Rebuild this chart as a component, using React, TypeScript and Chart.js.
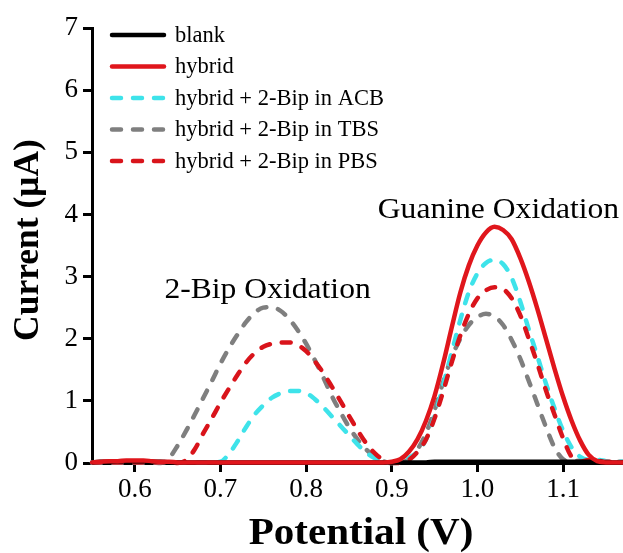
import React, { useEffect, useRef } from "react";
import { Chart, registerables } from "chart.js";

Chart.register(...registerables);

const potential = [
  0.55, 0.56, 0.57, 0.58, 0.59, 0.60, 0.61, 0.62, 0.63, 0.64,
  0.65, 0.66, 0.67, 0.68, 0.69, 0.70, 0.71, 0.72, 0.73, 0.74,
  0.75, 0.76, 0.77, 0.78, 0.79, 0.80, 0.81, 0.82, 0.83, 0.84,
  0.85, 0.86, 0.87, 0.88, 0.89, 0.90, 0.91, 0.92, 0.93, 0.94,
  0.95, 0.96, 0.97, 0.98, 0.99, 1.00, 1.01, 1.02, 1.03, 1.04,
  1.05, 1.06, 1.07, 1.08, 1.09, 1.10, 1.11, 1.12, 1.13, 1.14,
  1.15, 1.16, 1.17,
];

const blank = [
  0.01, 0.02, 0.02, 0.03, 0.03, 0.03, 0.03, 0.02, 0.02, 0.01,
  0.01, 0.01, 0.01, 0.01, 0.01, 0.01, 0.01, 0.01, 0.01, 0.01,
  0.01, 0.01, 0.01, 0.01, 0.01, 0.01, 0.01, 0.01, 0.01, 0.01,
  0.01, 0.01, 0.01, 0.01, 0.01, 0.01, 0.01, 0.01, 0.01, 0.01,
  0.02, 0.02, 0.02, 0.02, 0.02, 0.02, 0.02, 0.02, 0.02, 0.02,
  0.02, 0.02, 0.02, 0.02, 0.02, 0.02, 0.02, 0.02, 0.02, 0.02,
  0.01, 0.01, 0.01,
];

const hybrid = [
  0.01, 0.02, 0.03, 0.03, 0.04, 0.04, 0.04, 0.03, 0.02, 0.02,
  0.01, 0.01, 0.01, 0.01, 0.01, 0.01, 0.01, 0.01, 0.01, 0.01,
  0.01, 0.01, 0.01, 0.01, 0.01, 0.01, 0.01, 0.01, 0.01, 0.01,
  0.01, 0.01, 0.01, 0.01, 0.01, 0.02, 0.06, 0.18, 0.38, 0.68,
  1.08, 1.60, 2.18, 2.74, 3.18, 3.50, 3.71, 3.80, 3.75, 3.60,
  3.30, 2.92, 2.48, 2.00, 1.52, 1.07, 0.68, 0.36, 0.13, 0.03,
  0.01, 0.01, 0.01,
];

const acb = [
  0.01, 0.01, 0.01, 0.01, 0.01, 0.01, 0.01, 0.01, 0.01, 0.01,
  0.01, 0.01, 0.01, 0.01, 0.01, 0.02, 0.15, 0.35, 0.58, 0.78,
  0.93, 1.05, 1.12, 1.16, 1.16, 1.13, 1.03, 0.90, 0.75, 0.60,
  0.45, 0.30, 0.17, 0.08, 0.02, 0.00, 0.01, 0.08, 0.18, 0.38,
  0.75, 1.25, 1.78, 2.30, 2.75, 3.05, 3.22, 3.27, 3.20, 2.98,
  2.60, 2.15, 1.72, 1.28, 0.88, 0.52, 0.25, 0.10, 0.05, 0.05,
  0.03, 0.02, 0.02,
];

const tbs = [
  0.01, 0.01, 0.01, 0.01, 0.01, 0.01, 0.01, 0.01, 0.00, 0.08,
  0.28, 0.52, 0.78, 1.05, 1.32, 1.60, 1.85, 2.07, 2.27, 2.42,
  2.50, 2.51, 2.45, 2.32, 2.14, 1.92, 1.66, 1.38, 1.08, 0.82,
  0.58, 0.38, 0.22, 0.10, 0.03, 0.00, 0.01, 0.06, 0.22, 0.48,
  0.85, 1.30, 1.70, 2.00, 2.22, 2.35, 2.40, 2.36, 2.22, 1.98,
  1.68, 1.32, 0.95, 0.58, 0.25, 0.06, 0.02, 0.04, 0.05, 0.03,
  0.02, 0.02, 0.02,
];

const pbs = [
  0.01, 0.01, 0.01, 0.01, 0.01, 0.01, 0.01, 0.01, 0.01, 0.01,
  0.00, 0.05, 0.22, 0.48, 0.72, 0.97, 1.20, 1.42, 1.62, 1.77,
  1.87, 1.92, 1.94, 1.94, 1.90, 1.80, 1.64, 1.45, 1.23, 1.00,
  0.76, 0.53, 0.32, 0.16, 0.05, 0.00, 0.00, 0.05, 0.18, 0.38,
  0.72, 1.15, 1.62, 2.05, 2.40, 2.65, 2.78, 2.83, 2.80, 2.65,
  2.38, 2.00, 1.60, 1.17, 0.78, 0.40, 0.10, 0.02, 0.05, 0.04,
  0.02, 0.02, 0.01,
];

const seriesLabels = [
  "blank",
  "hybrid",
  "hybrid + 2-Bip in ACB",
  "hybrid + 2-Bip in TBS",
  "hybrid + 2-Bip in PBS",
];
const xTicks = [0.6, 0.7, 0.8, 0.9, 1.0, 1.1];
const yTicks = [0, 1, 2, 3, 4, 5, 6, 7];
const annotations = [
  { text: "2-Bip Oxidation", x: 0.755, y: 2.66 },
  { text: "Guanine Oxidation", x: 1.0246, y: 3.95 },
];

const SERIF = '"Liberation Serif", "Times New Roman", serif';
const DASH = [9, 12];

const toPoints = (vals: number[]) => potential.map((v, i) => ({ x: v, y: vals[i] }));

function stretchText(ctx: CanvasRenderingContext2D, text: string, cx: number, cy: number, sx: number) {
  ctx.save();
  ctx.translate(cx, cy);
  ctx.scale(sx, 1);
  ctx.fillText(text, 0, 0);
  ctx.restore();
}

const decorPlugin = {
  id: "decor",
  afterDraw(chart: any) {
    const ctx = chart.ctx as CanvasRenderingContext2D;
    const xs = chart.scales.x;
    const ys = chart.scales.y;
    ctx.save();
    // legend
    chart.data.datasets.forEach((ds: any, i: number) => {
      const ly = 35 + i * 31.5;
      ctx.strokeStyle = ds.borderColor;
      ctx.lineWidth = 4.5;
      ctx.lineCap = "round";
      ctx.setLineDash(ds.borderDash || []);
      ctx.beginPath();
      ctx.moveTo(112, ly);
      ctx.lineTo(164, ly);
      ctx.stroke();
      ctx.setLineDash([]);
      ctx.fillStyle = "#000";
      ctx.font = `22.5px ${SERIF}`;
      ctx.textAlign = "left";
      ctx.textBaseline = "middle";
      ctx.fillText(ds.label, 175, ly + 1);
    });
    // annotations
    ctx.font = `29px ${SERIF}`;
    ctx.textAlign = "center";
    ctx.textBaseline = "alphabetic";
    ctx.fillStyle = "#000";
    annotations.forEach((a) => {
      stretchText(ctx, a.text, xs.getPixelForValue(a.x), ys.getPixelForValue(a.y), 1.09);
    });
    // axis titles
    ctx.font = `bold 37px ${SERIF}`;
    stretchText(ctx, "Potential (V)", 361, 544, 1.11);
    ctx.save();
    ctx.translate(29, 240);
    ctx.rotate(-Math.PI / 2);
    ctx.textBaseline = "middle";
    ctx.font = `bold 35.5px ${SERIF}`;
    ctx.fillText("Current (\u03BCA)", 0, 0);
    ctx.restore();
    ctx.restore();
  },
};

export default function App() {
  const ref = useRef<HTMLCanvasElement>(null);
  useEffect(() => {
    const common = {
      pointRadius: 0,
      borderWidth: 4.5,
      cubicInterpolationMode: "monotone" as const,
      clip: 6,
      fill: false,
    };
    const chart = new Chart(ref.current!, {
      type: "line",
      data: {
        datasets: [
          { ...common, label: seriesLabels[0], data: toPoints(blank), borderColor: "#000000", order: 1 },
          { ...common, label: seriesLabels[1], data: toPoints(hybrid), borderColor: "#e0161c", order: 0 },
          { ...common, label: seriesLabels[2], data: toPoints(acb), borderColor: "#3ee3ea", borderDash: DASH, borderCapStyle: "round", order: 3 },
          { ...common, label: seriesLabels[3], data: toPoints(tbs), borderColor: "#7f7f7f", borderDash: DASH, borderCapStyle: "round", order: 4 },
          { ...common, label: seriesLabels[4], data: toPoints(pbs), borderColor: "#d9141b", borderDash: DASH, borderCapStyle: "round", order: 2 },
        ] as any,
      },
      options: {
        animation: false,
        responsive: true,
        maintainAspectRatio: false,
        layout: { padding: { left: 0, top: 28, right: 0, bottom: 0 } },
        plugins: { legend: { display: false }, tooltip: { enabled: false } },
        scales: {
          x: {
            type: "linear",
            min: 0.55,
            max: 1.17,
            afterFit: (s: any) => { s.height = 90; },
            afterBuildTicks: (s: any) => { s.ticks = xTicks.map((v) => ({ value: v })); },
            ticks: {
              color: "#000",
              font: { family: SERIF, size: 27 },
              padding: 2,
              maxRotation: 0,
              autoSkip: false,
              callback: (v: any) => Number(v).toFixed(1),
            },
            grid: { drawOnChartArea: false, drawTicks: true, tickLength: 9, lineWidth: 3, color: "#000" },
            border: { display: true, color: "#000", width: 3 },
          },
          y: {
            type: "linear",
            min: 0,
            max: 7,
            afterFit: (s: any) => { s.width = 92; },
            afterBuildTicks: (s: any) => { s.ticks = yTicks.map((v) => ({ value: v })); },
            ticks: {
              color: "#000",
              font: { family: SERIF, size: 27 },
              padding: 5,
              autoSkip: false,
              callback: (v: any) => String(v),
            },
            grid: { drawOnChartArea: false, drawTicks: true, tickLength: 9, lineWidth: 3, color: "#000" },
            border: { display: true, color: "#000", width: 3 },
          },
        },
      },
      plugins: [decorPlugin],
    });
    return () => chart.destroy();
  }, []);
  return (
    <div style={{ position: "absolute", left: 0, top: 0, width: 623, height: 553, background: "#fff" }}>
      <canvas ref={ref} />
    </div>
  );
}
